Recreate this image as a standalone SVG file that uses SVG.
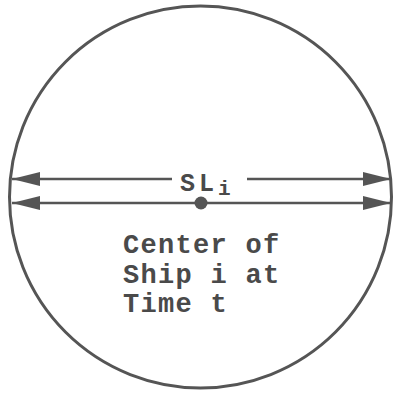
<svg xmlns="http://www.w3.org/2000/svg" width="394" height="393" viewBox="0 0 394 393">
<style>
.c{fill:none;stroke:#555;stroke-width:3}
.l{stroke:#555;stroke-width:2.6;fill:none}
.t{font-family:"Liberation Mono","DejaVu Sans Mono",monospace;font-weight:bold;fill:#4a4a4a;font-size:27px;letter-spacing:1.3px}
</style>
<defs>
<marker id="ah" viewBox="0 0 28 14" refX="28" refY="7" markerWidth="28" markerHeight="14" markerUnits="userSpaceOnUse" orient="auto">
<path d="M0,0 L28,7 L0,14 Z" fill="#555"/>
</marker>
</defs>
<rect width="394" height="393" fill="#fff"/>
<g id="circle"><circle class="c" cx="200.5" cy="197" r="191"/></g>
<g id="connectors">
<line class="l" x1="172" y1="179" x2="12" y2="179" marker-end="url(#ah)"/>
<line class="l" x1="247" y1="179" x2="391" y2="179" marker-end="url(#ah)"/>
<line class="l" x1="200" y1="203" x2="12" y2="203" marker-end="url(#ah)"/>
<line class="l" x1="200" y1="203" x2="391" y2="203" marker-end="url(#ah)"/>
</g>
<g id="center"><circle cx="201" cy="203" r="6.5" fill="#555"/></g>
<g id="label-sl"><text class="t" x="180" y="191" style="font-size:25px;letter-spacing:4px">SL<tspan font-size="21" dy="4" style="letter-spacing:0">i</tspan></text></g>
<g id="label-center">
<text class="t" x="123" y="253">Center of</text>
<text class="t" x="123" y="283">Ship i at</text>
<text class="t" x="123" y="312">Time t</text>
</g>
</svg>
